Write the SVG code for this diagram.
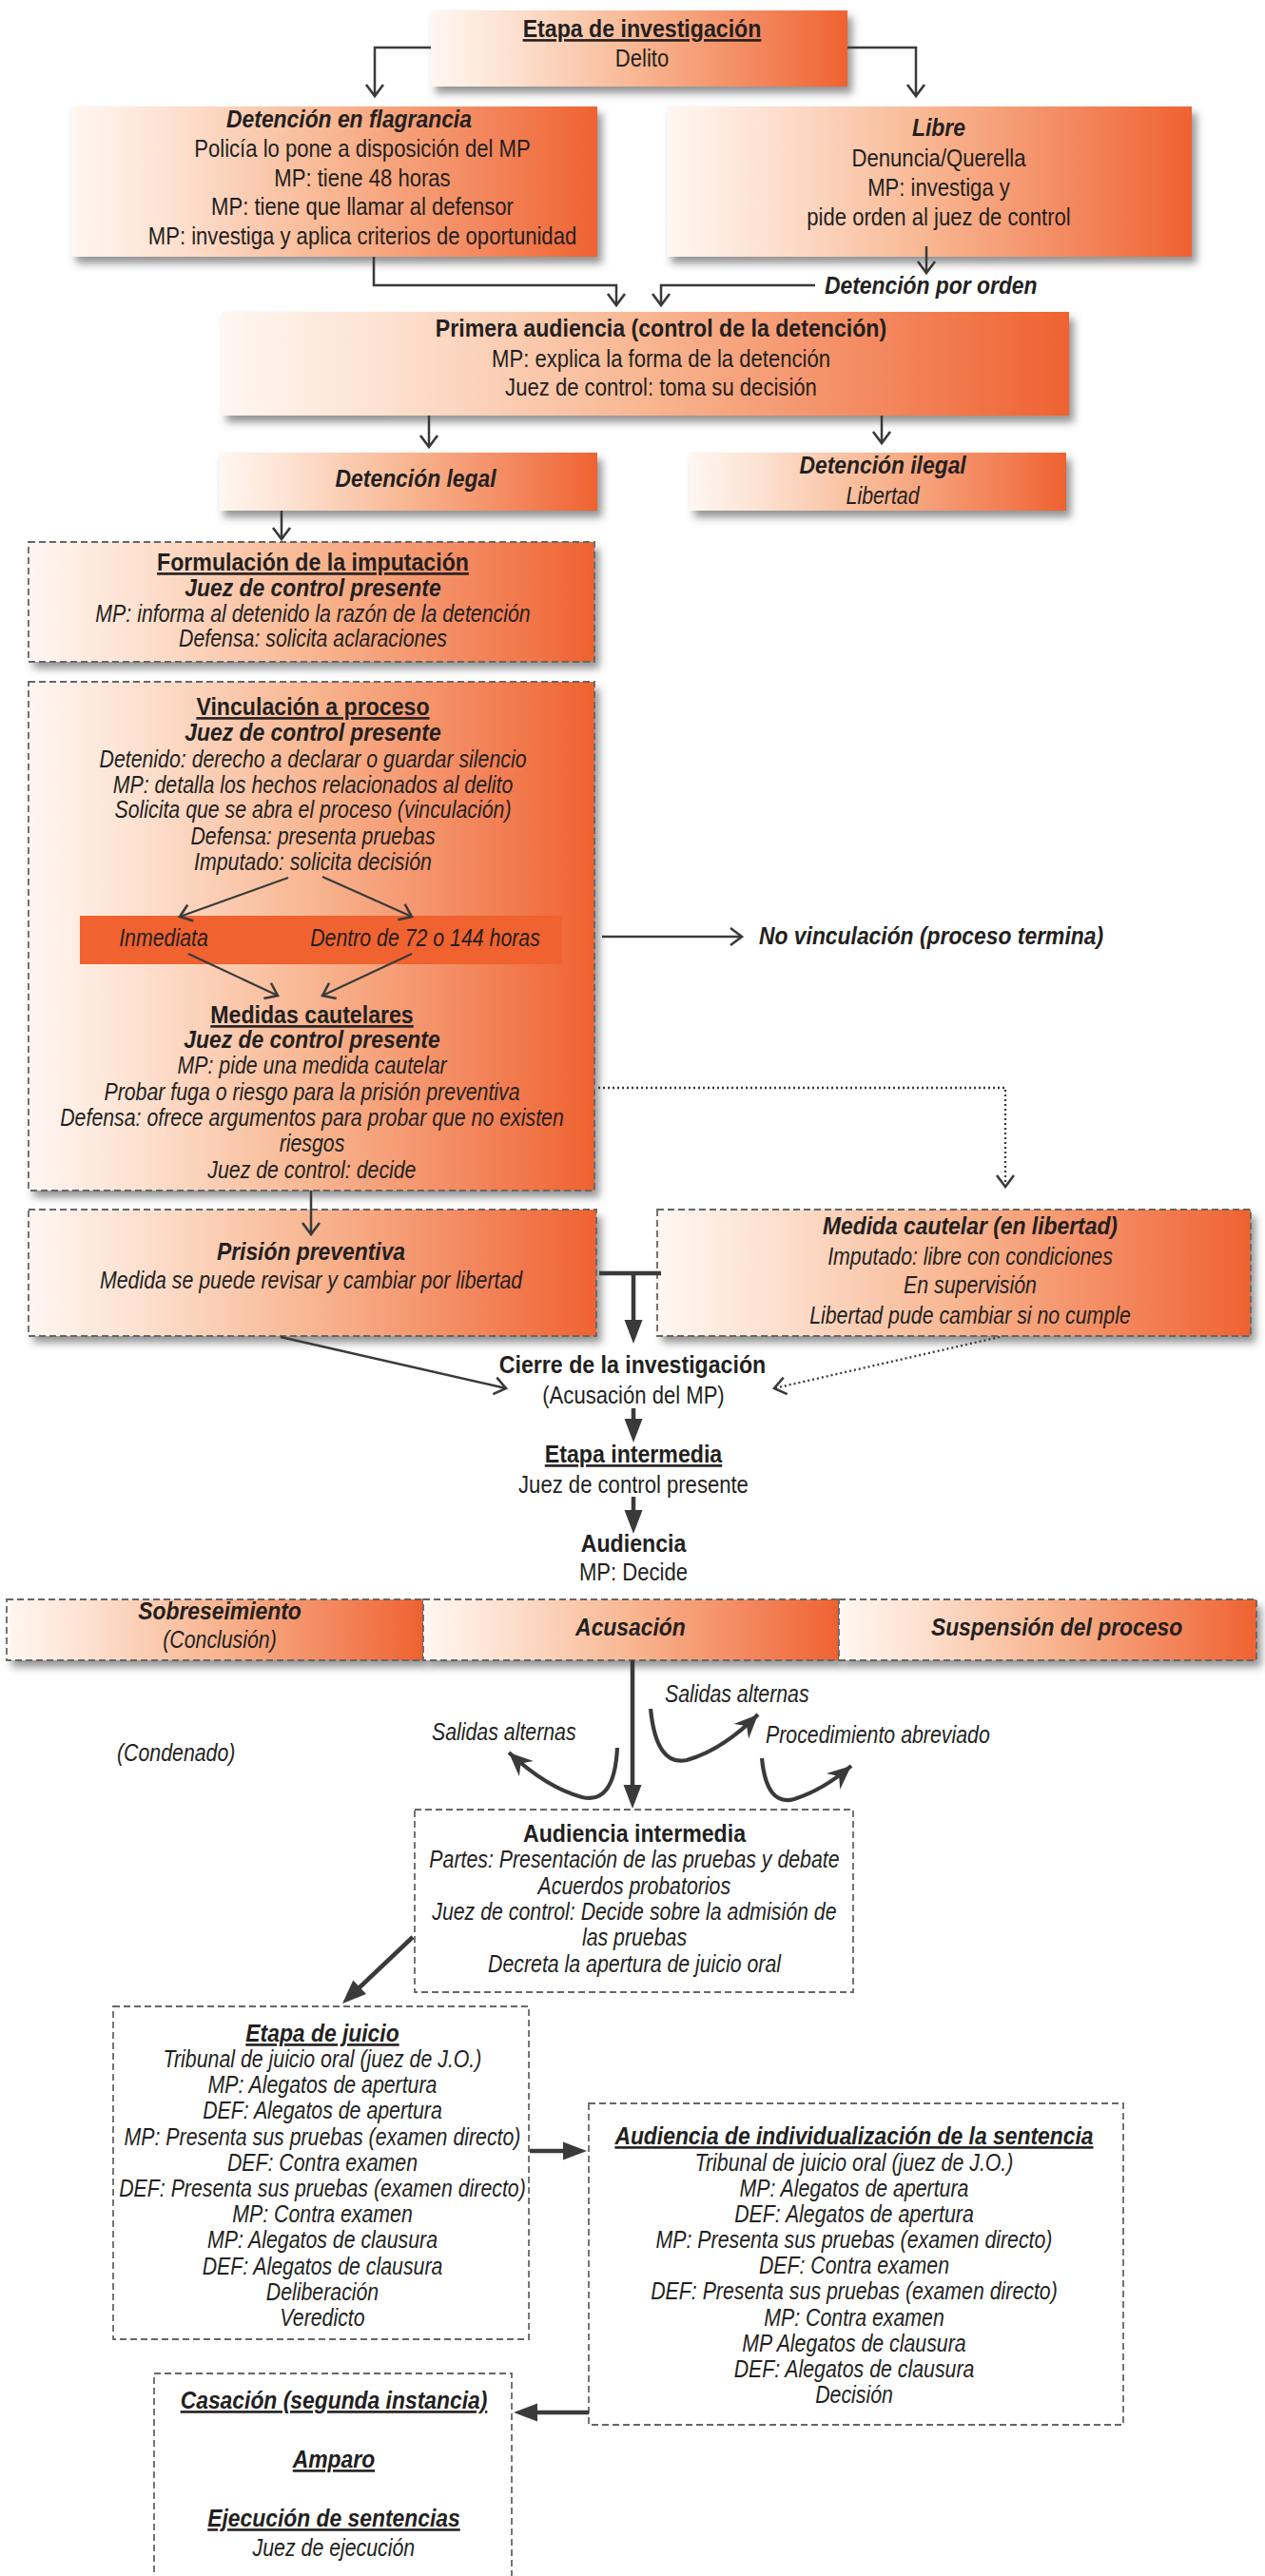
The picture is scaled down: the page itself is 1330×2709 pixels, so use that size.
<svg xmlns="http://www.w3.org/2000/svg" width="1330" height="2709" viewBox="0 0 1330 2709">
<defs>
<linearGradient id="og" x1="0" y1="0" x2="1" y2="0">
<stop offset="0" stop-color="#fff7f2"/>
<stop offset="0.2" stop-color="#fde0cf"/>
<stop offset="0.5" stop-color="#f8b691"/>
<stop offset="0.8" stop-color="#f3845a"/>
<stop offset="1" stop-color="#ef6230"/>
</linearGradient>
<filter id="sh" x="-5%" y="-10%" width="115%" height="160%">
<feDropShadow dx="5" dy="7" stdDeviation="4" flood-color="#4d4d4d" flood-opacity="0.6"/>
</filter>
<marker id="chev" markerUnits="userSpaceOnUse" orient="auto" refX="0" refY="0" markerWidth="30" markerHeight="30" overflow="visible">
<path d="M-12,-9 L0,0 L-12,9" fill="none" stroke="#3a3a3a" stroke-width="2.6"/>
</marker>
<marker id="barb" markerUnits="userSpaceOnUse" orient="auto" refX="0" refY="0" markerWidth="40" markerHeight="40" overflow="visible">
<path d="M0,0 L-25,-11 L-17,0 L-25,11 Z" fill="#3a3a3a"/>
</marker>
<style>
.n{font-family:"Liberation Sans",Arial,sans-serif;font-size:26px;fill:#231f20;text-anchor:middle;transform-box:fill-box;transform-origin:center;transform:scaleX(0.85)}
.i{font-style:italic;transform:scaleX(0.82)}
.b{font-weight:bold;transform:scaleX(0.89)}
.b.i{transform:scaleX(0.88)}
.u{text-decoration:underline}
.s{text-anchor:start;transform-origin:left center}
.box{fill:url(#og);filter:url(#sh)}
.dash{fill:none;stroke:#666;stroke-width:1.8;stroke-dasharray:7 4}
.lnc{fill:none;stroke:#3a3a3a;stroke-width:2.5;marker-end:url(#chev)}
.thk{fill:none;stroke:#3a3a3a;stroke-width:4.5}
.crv{fill:none;stroke:#3a3a3a;stroke-width:4.2;marker-end:url(#barb)}
.dot{fill:none;stroke:#3a3a3a;stroke-width:2.3;stroke-dasharray:2 3;marker-end:url(#chev)}
.hd{fill:#3a3a3a}
</style>
</defs>

<g id="etapa-investigacion">
<rect class="box" x="453" y="11" width="438" height="80"/>
<text class="n b u" x="675" y="39">Etapa de investigación</text>
<text class="n" x="675" y="70">Delito</text>
</g>

<g id="flagrancia">
<rect class="box" x="75" y="112" width="553" height="158"/>
<text class="n b i" x="367" y="134">Detención en flagrancia</text>
<text class="n" x="381" y="165">Policía lo pone a disposición del MP</text>
<text class="n" x="381" y="196">MP: tiene 48 horas</text>
<text class="n" x="381" y="226">MP: tiene que llamar al defensor</text>
<text class="n" x="381" y="257">MP: investiga y aplica criterios de oportunidad</text>
</g>

<g id="libre">
<rect class="box" x="701" y="112" width="552" height="158"/>
<text class="n b i" x="987" y="143">Libre</text>
<text class="n" x="987" y="175">Denuncia/Querella</text>
<text class="n" x="987" y="206">MP: investiga y</text>
<text class="n" x="987" y="237">pide orden al juez de control</text>
</g>

<g id="detencion-por-orden">
<text class="n b i s" x="867" y="309">Detención por orden</text>
</g>

<g id="primera-audiencia">
<rect class="box" x="233" y="328" width="891" height="109"/>
<text class="n b" x="695" y="354">Primera audiencia (control de la detención)</text>
<text class="n" x="695" y="386">MP: explica la forma de la detención</text>
<text class="n" x="695" y="416">Juez de control: toma su decisión</text>
</g>

<g id="detencion-legal">
<rect class="box" x="230" y="476" width="398" height="61"/>
<text class="n b i" x="437" y="512">Detención legal</text>
</g>

<g id="detencion-ilegal">
<rect class="box" x="725" y="476" width="396" height="61"/>
<text class="n b i" x="928" y="498">Detención ilegal</text>
<text class="n i" x="928" y="530">Libertad</text>
</g>

<g id="formulacion">
<rect class="box" x="30" y="570" width="595" height="126"/>
<rect class="dash" x="30" y="570" width="595" height="126"/>
<text class="n b u" x="329" y="600">Formulación de la imputación</text>
<text class="n b i" x="329" y="627">Juez de control presente</text>
<text class="n i" x="329" y="654">MP: informa al detenido la razón de la detención</text>
<text class="n i" x="329" y="680">Defensa: solicita aclaraciones</text>
</g>

<g id="vinculacion">
<rect class="box" x="30" y="717" width="595" height="535"/>
<rect class="dash" x="30" y="717" width="595" height="535"/>
<text class="n b u" x="329" y="752">Vinculación a proceso</text>
<text class="n b i" x="329" y="779">Juez de control presente</text>
<text class="n i" x="329" y="807">Detenido: derecho a declarar o guardar silencio</text>
<text class="n i" x="329" y="834">MP: detalla los hechos relacionados al delito</text>
<text class="n i" x="329" y="860">Solicita que se abra el proceso (vinculación)</text>
<text class="n i" x="329" y="888">Defensa: presenta pruebas</text>
<text class="n i" x="329" y="915">Imputado: solicita decisión</text>
<rect x="84" y="963" width="507" height="51" fill="#f0622f"/>
<text class="n i" x="172" y="995">Inmediata</text>
<text class="n i" x="447" y="995">Dentro de 72 o 144 horas</text>
<path class="lnc" style="stroke-width:2.2" d="M303,923 L189,964"/>
<path class="lnc" style="stroke-width:2.2" d="M339,922 L433,964"/>
<path class="lnc" style="stroke-width:2.2" d="M198,1003 L292,1047"/>
<path class="lnc" style="stroke-width:2.2" d="M433,1003 L339,1047"/>
<text class="n b u" x="328" y="1076">Medidas cautelares</text>
<text class="n b i" x="328" y="1102">Juez de control presente</text>
<text class="n i" x="328" y="1129">MP: pide una medida cautelar</text>
<text class="n i" x="328" y="1157">Probar fuga o riesgo para la prisión preventiva</text>
<text class="n i" x="328" y="1184">Defensa: ofrece argumentos para probar que no existen</text>
<text class="n i" x="328" y="1211">riesgos</text>
<text class="n i" x="328" y="1239">Juez de control: decide</text>
</g>

<g id="no-vinculacion">
<text class="n b i s" x="798" y="993">No vinculación (proceso termina)</text>
</g>

<g id="prision-preventiva">
<rect class="box" x="30" y="1272" width="597" height="133"/>
<rect class="dash" x="30" y="1272" width="597" height="133"/>
<text class="n b i" x="327" y="1325">Prisión preventiva</text>
<text class="n i" x="327" y="1355">Medida se puede revisar y cambiar por libertad</text>
</g>

<g id="medida-libertad">
<rect class="box" x="691" y="1272" width="624" height="133"/>
<rect class="dash" x="691" y="1272" width="624" height="133"/>
<text class="n b i" x="1020" y="1298">Medida cautelar (en libertad)</text>
<text class="n i" x="1020" y="1330">Imputado: libre con condiciones</text>
<text class="n i" x="1020" y="1360">En supervisión</text>
<text class="n i" x="1020" y="1392">Libertad pude cambiar si no cumple</text>
</g>

<g id="cierre">
<text class="n b" x="665" y="1444">Cierre de la investigación</text>
<text class="n" x="666" y="1476">(Acusación del MP)</text>
</g>

<g id="etapa-intermedia">
<text class="n b u" x="666" y="1538">Etapa intermedia</text>
<text class="n" x="666" y="1570">Juez de control presente</text>
</g>

<g id="audiencia">
<text class="n b" x="666" y="1632">Audiencia</text>
<text class="n" x="666" y="1662">MP: Decide</text>
</g>

<g id="sobreseimiento">
<rect class="box" x="7" y="1682" width="438" height="64"/>
<rect class="dash" x="7" y="1682" width="438" height="64"/>
<text class="n b i" x="231" y="1703">Sobreseimiento</text>
<text class="n i" x="231" y="1733">(Conclusión)</text>
</g>

<g id="acusacion">
<rect class="box" x="445" y="1682" width="437" height="64"/>
<rect class="dash" x="445" y="1682" width="437" height="64"/>
<text class="n b i" x="663" y="1720">Acusación</text>
</g>

<g id="suspension">
<rect class="box" x="882" y="1682" width="439" height="64"/>
<rect class="dash" x="882" y="1682" width="439" height="64"/>
<text class="n b i" x="1111" y="1720">Suspensión del proceso</text>
</g>

<g id="salidas-labels">
<text class="n i s" x="699" y="1790">Salidas alternas</text>
<text class="n i s" x="805" y="1833">Procedimiento abreviado</text>
<text class="n i s" x="454" y="1830">Salidas alternas</text>
<text class="n i s" x="123" y="1852">(Condenado)</text>
</g>

<g id="audiencia-intermedia">
<rect class="dash" x="436" y="1903" width="461" height="192"/>
<text class="n b" x="667" y="1937">Audiencia intermedia</text>
<text class="n i" x="667" y="1964">Partes: Presentación de las pruebas y debate</text>
<text class="n i" x="667" y="1992">Acuerdos probatorios</text>
<text class="n i" x="667" y="2019">Juez de control: Decide sobre la admisión de</text>
<text class="n i" x="667" y="2046">las pruebas</text>
<text class="n i" x="667" y="2074">Decreta la apertura de juicio oral</text>
</g>

<g id="etapa-juicio">
<rect class="dash" x="119" y="2110" width="437" height="350"/>
<text class="n b i u" x="339" y="2147">Etapa de juicio</text>
<text class="n i" x="339" y="2174">Tribunal de juicio oral (juez de J.O.)</text>
<text class="n i" x="339" y="2201">MP: Alegatos de apertura</text>
<text class="n i" x="339" y="2228">DEF: Alegatos de apertura</text>
<text class="n i" x="339" y="2256">MP: Presenta sus pruebas (examen directo)</text>
<text class="n i" x="339" y="2283">DEF: Contra examen</text>
<text class="n i" x="339" y="2310">DEF: Presenta sus pruebas (examen directo)</text>
<text class="n i" x="339" y="2337">MP: Contra examen</text>
<text class="n i" x="339" y="2364">MP: Alegatos de clausura</text>
<text class="n i" x="339" y="2392">DEF: Alegatos de clausura</text>
<text class="n i" x="339" y="2419">Deliberación</text>
<text class="n i" x="339" y="2446">Veredicto</text>
</g>

<g id="individualizacion">
<rect class="dash" x="619" y="2212" width="562" height="338"/>
<text class="n b i u" x="898" y="2255">Audiencia de individualización de la sentencia</text>
<text class="n i" x="898" y="2283">Tribunal de juicio oral (juez de J.O.)</text>
<text class="n i" x="898" y="2310">MP: Alegatos de apertura</text>
<text class="n i" x="898" y="2337">DEF: Alegatos de apertura</text>
<text class="n i" x="898" y="2364">MP: Presenta sus pruebas (examen directo)</text>
<text class="n i" x="898" y="2391">DEF: Contra examen</text>
<text class="n i" x="898" y="2418">DEF: Presenta sus pruebas (examen directo)</text>
<text class="n i" x="898" y="2446">MP: Contra examen</text>
<text class="n i" x="898" y="2473">MP Alegatos de clausura</text>
<text class="n i" x="898" y="2500">DEF: Alegatos de clausura</text>
<text class="n i" x="898" y="2527">Decisión</text>
</g>

<g id="casacion">
<rect class="dash" x="162" y="2496" width="376" height="240"/>
<text class="n b i u" x="351" y="2533">Casación (segunda instancia)</text>
<text class="n b i u" x="351" y="2595">Amparo</text>
<text class="n b i u" x="351" y="2657">Ejecución de sentencias</text>
<text class="n i" x="351" y="2688">Juez de ejecución</text>
</g>

<g id="connectors">
<path class="lnc" d="M453,50 H394 V101"/>
<path class="lnc" d="M891,50 H963 V101"/>
<path class="lnc" d="M974,259 V287"/>
<path class="lnc" d="M393,270 V300 H648 V321"/>
<path class="lnc" d="M857,300 H695 V321"/>
<path class="lnc" d="M451,437 V470"/>
<path class="lnc" d="M927,437 V466"/>
<path class="lnc" d="M296,537 V567"/>
<path class="lnc" d="M633,985 H780"/>
<path class="dot" d="M629,1144 H1057 V1248"/>
<path class="lnc" d="M327,1252 V1298"/>
<path class="thk" d="M630,1339 H695"/>
<path class="thk" d="M666,1339 V1392"/>
<polygon class="hd" points="656.5,1388 675.5,1388 666,1413"/>
<path class="lnc" d="M295,1406 L532,1460"/>
<path class="dot" d="M1051,1406 L814,1460"/>
<path class="thk" d="M666,1481 V1495"/>
<polygon class="hd" points="656.5,1492 675.5,1492 666,1517"/>
<path class="thk" d="M666,1574 V1591"/>
<polygon class="hd" points="656.5,1588 675.5,1588 666,1613"/>
<path class="thk" d="M665,1746 V1880"/>
<polygon class="hd" points="655.5,1877 674.5,1877 665,1902"/>
<path class="crv" d="M684,1797 Q690,1858 722,1851 Q760,1840 797,1803"/>
<path class="crv" d="M801,1849 Q806,1900 835,1892 Q866,1882 895,1857"/>
<path class="crv" d="M649,1838 Q646,1898 612,1890 Q575,1880 535,1843"/>
<path class="thk" d="M434,2037 L377,2091"/>
<polygon class="hd" points="360,2107 385,2097 371.3,2082.5"/>
<path class="thk" d="M557,2262 H594"/>
<polygon class="hd" points="592,2252.5 592,2271.5 617,2262"/>
<path class="thk" d="M619,2537 H563"/>
<polygon class="hd" points="565,2527.5 565,2546.5 540,2537"/>
</g>
</svg>
